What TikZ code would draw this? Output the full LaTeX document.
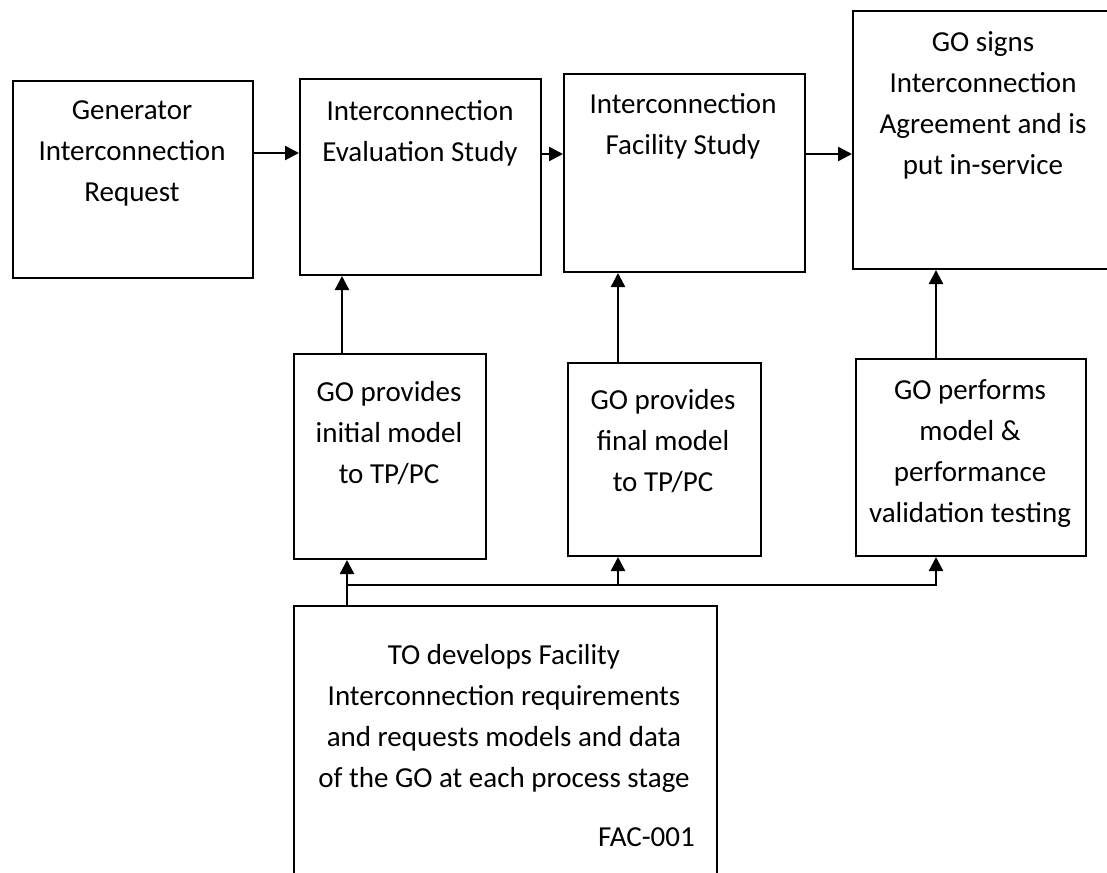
\documentclass[tikz,border=0pt]{standalone}
\usepackage{fontspec}
\setmainfont{Carlito}
\usetikzlibrary{arrows.meta}
\begin{document}
\begin{tikzpicture}[x=1pt,y=-1pt,
  box/.style={draw, line width=2pt, anchor=north west, inner sep=0pt},
  txt/.style={inner sep=0pt, align=center, font=\fontsize{29}{41}\selectfont},
  arr/.style={line width=2.4pt, -{Triangle[length=14pt,width=14pt]}},
  ln/.style={line width=2.4pt}]
\useasboundingbox (0,0) rectangle (1107,872);
\clip (0,0) rectangle (1107,872);
% top row
\node[box, minimum width=240pt, minimum height=197pt] (b1) at (12,80) {};
\node[box, minimum width=241pt, minimum height=196pt] (b2) at (299,78) {};
\node[box, minimum width=241pt, minimum height=198pt] (b3) at (563,73) {};
\node[box, minimum width=290pt, minimum height=258pt] (b4) at (852,10) {};
\node[txt] (t1) at (132,153) {Generator\\Interconnection\\Request};
\node[txt] (t2) at (420,133) {Interconnection\\Evaluation Study};
\node[txt] (t3) at (683,126) {Interconnection\\Facility Study};
\node[txt] (t4) at (983,105) {GO signs\\Interconnection\\Agreement and is\\put in-service};
% middle row
\node[box, minimum width=192pt, minimum height=205pt] (m1) at (293,353) {};
\node[box, minimum width=193pt, minimum height=193pt] (m2) at (567,362) {};
\node[box, minimum width=230pt, minimum height=197pt] (m3) at (855,358) {};
\node[txt] (tm1) at (389,433) {GO provides\\initial model\\to TP/PC};
\node[txt] (tm2) at (663,441) {GO provides\\final model\\to TP/PC};
\node[txt] (tm3) at (970,454) {GO performs\\model \&\\performance\\validation testing};
% bottom
\node[box, minimum width=423pt, minimum height=300pt] (bt) at (293,605) {};
\node[txt] (tb) at (504,718) {TO develops Facility\\Interconnection requirements\\and requests models and data\\of the GO at each process stage};
\node[txt, anchor=east] (fac) at (695,837) {FAC-001};
% horizontal arrows
\draw[arr] (b1.east |- 0,153) -- (b2.west |- 0,153);
\draw[arr] (b2.east |- 0,154) -- (b3.west |- 0,154);
\draw[arr] (b3.east |- 0,154) -- (b4.west |- 0,154);
% vertical arrows
\draw[arr] (m1.north -| 342,0) -- (b2.south -| 342,0);
\draw[arr] (m2.north -| 618,0) -- (b3.south -| 618,0);
\draw[arr] (m3.north -| 936,0) -- (b4.south -| 936,0);
% feedback from bottom box
\coordinate (j) at (347,585);
\draw[arr] (bt.north -| 347,0) -- (m1.south -| 347,0);
\draw[ln] (j) -- (618,585);
\draw[arr] (618,585) -- (m2.south -| 618,0);
\draw[arr] (618,585) -| (m3.south -| 936,0);
\end{tikzpicture}
\end{document}
